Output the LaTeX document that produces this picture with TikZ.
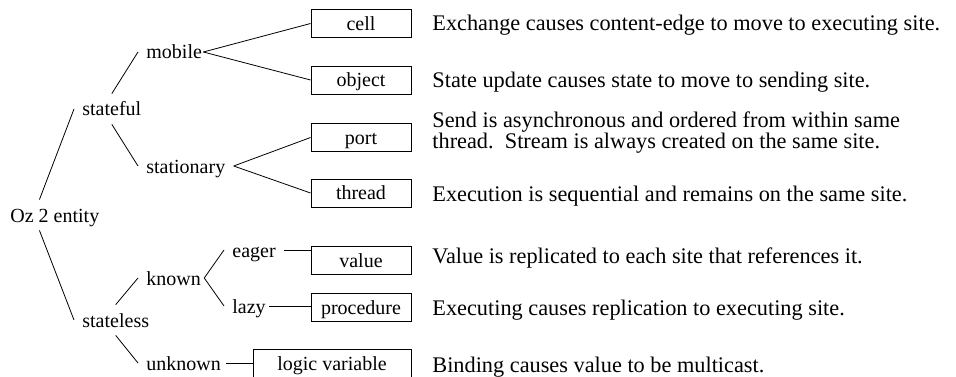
\documentclass[tikz,border=0pt]{standalone}
\usepackage{fontspec}
\setmainfont{Liberation Serif}
\usetikzlibrary{calc}
\tikzset{
  entity/.style={inner xsep=8pt, inner ysep=8pt, text height=14pt, text depth=0pt, anchor=base west},
  kindbox/.style={draw, line width=0.9pt, minimum width=100pt, minimum height=28pt, inner sep=0pt, text height=14pt, text depth=0pt},
  remark/.style={anchor=base west, inner sep=0pt, font=\fontsize{22.3}{17}\selectfont},
}

\begin{document}
\begin{tikzpicture}[x=1pt, y=-1pt, line width=0.8pt, font=\fontsize{20}{17}\selectfont]

    \useasboundingbox (0,0) rectangle (956,377);

    % tree of entity kinds
    \node[entity] (oz) at (2,222) {Oz 2 entity};
    \node[entity] (stateful) at (74,116) {stateful};
    \node[entity] (stateless) at (74,327) {stateless};
    \node[entity] (mobile) at (138,59) {mobile};
    \node[entity] (stationary) at (138,173) {stationary};
    \node[entity] (known) at (138,285) {known};
    \node[entity] (unknown) at (138,370) {unknown};
    \node[entity] (eager) at (224,257) {eager};
    \node[entity] (lazy) at (224,313) {lazy};

    % leaves
    \foreach \name/\y in {cell/23.5, object/80, port/137.5, thread/193, value/260, procedure/307.5}{
            \node[kindbox] (\name) at (361,\y) {\name};
        }
    \node[kindbox, minimum width=158pt, minimum height=29pt] (logic) at (332,363.5) {logic variable};

    % descriptions
    \foreach \name/\y/\txt in {cell/31/{Exchange causes content-edge to move to executing site.},
                               object/88/{State update causes state to move to sending site.},
                               thread/201/{Execution is sequential and remains on the same site.},
                               value/263/{Value is replicated to each site that references it.},
                               procedure/315/{Executing causes replication to executing site.},
                               logic/372/{Binding causes value to be multicast.}}{
            \node[remark] (d\name) at (432,\y) {\txt};
        }
    \node[remark, anchor=north west, align=left] (dport) at (432,111)
        {Send is asynchronous and ordered from within same\\thread.\ \ Stream is always created on the same site.};

    \draw (oz.135) -- (stateful.west);
    \draw (oz.-135) -- (stateless.west);
    \draw (stateful.north) -- (mobile.west);
    \draw (stateful.south) -- (stationary.west);
    \draw ([xshift=-7pt]mobile.east) -- (cell.west);
    \draw ([xshift=-7pt]mobile.east) -- (object.west);
    \draw (stationary.east) -- (port.west);
    \draw (stationary.east) -- (thread.west);
    \draw (stateless.north) -- (known.west);
    \draw (stateless.south) -- (unknown.west);
    \draw ([xshift=-5pt]known.east) -- (eager.west);
    \draw ([xshift=-5pt]known.east) -- (lazy.west);
    \draw (eager.east) -- (eager.east -| value.west);
    \draw ([xshift=-5pt]lazy.east) -- (lazy.east -| procedure.west);
    \draw ([xshift=-3pt]unknown.east) -- (unknown.east -| logic.west);

\end{tikzpicture}
\end{document}
